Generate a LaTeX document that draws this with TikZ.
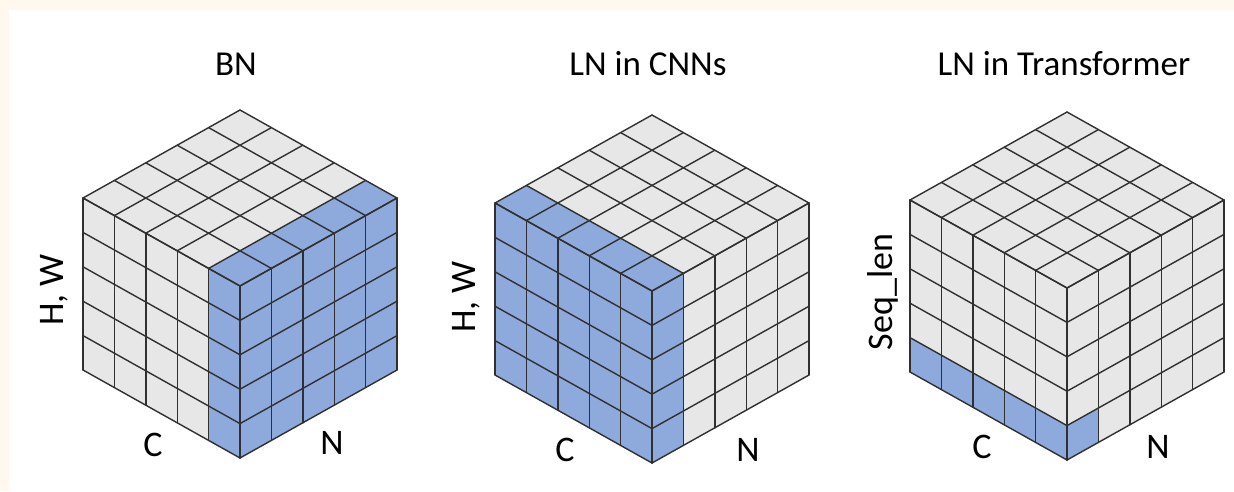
\documentclass[tikz,border=0pt]{standalone}
\usepackage{fontspec}
\setmainfont{Carlito}
\definecolor{cream}{HTML}{FEF8EF}
\definecolor{facegray}{HTML}{E7E7E7}
\definecolor{normblue}{HTML}{8EA9DB}
\definecolor{gridline}{HTML}{303030}
\begin{document}
\begin{tikzpicture}[x=1pt, y=-1pt,
		face/.style={fill=facegray},
		hit/.style={fill=normblue},
		cubeline/.style={draw=gridline, line width=1.4pt, line cap=round},
		ttl/.style={font=\fontsize{35}{42}\selectfont, anchor=base, inner sep=0pt},
		ax/.style={font=\fontsize{36}{43}\selectfont, inner sep=0pt},
		cell/.style={x={(31.4pt,17.6pt)}, y={(-31.4pt,17.6pt)}, z={(0pt,-34.4pt)}}]
	% page with its cream edge
	\useasboundingbox (0,0) rectangle (1234,491);
	\fill[cream] (0,0) rectangle (1234,491);
	\fill[white] (9,10) rectangle (1234,491);
	% front top corner of each cube
	\coordinate (bn)  at (240,286);
	\coordinate (cnn) at (652,291);
	\coordinate (tf)  at (1067,288);
	% grey faces (x = N, y = C, z = H,W / Seq_len going down)
	\foreach \cb in {bn, cnn, tf} {
		\begin{scope}[shift={(\cb)}, cell]
			\fill[face] (0,0,0) -- (0,5,0) -- (0,5,5) -- (0,0,5) -- cycle;
			\fill[face] (0,0,0) -- (5,0,0) -- (5,0,5) -- (0,0,5) -- cycle;
			\fill[face] (0,0,0) -- (5,0,0) -- (5,5,0) -- (0,5,0) -- cycle;
		\end{scope}
	}
	% BN: one C slice
	\begin{scope}[shift={(bn)}, cell]
		\fill[hit] (0,0,0) -- (5,0,0) -- (5,0,5) -- (0,0,5) -- cycle;
		\fill[hit] (0,0,0) -- (0,1,0) -- (0,1,5) -- (0,0,5) -- cycle;
		\fill[hit] (0,0,0) -- (5,0,0) -- (5,1,0) -- (0,1,0) -- cycle;
	\end{scope}
	% LN in CNNs: one N slice
	\begin{scope}[shift={(cnn)}, cell]
		\fill[hit] (0,0,0) -- (0,5,0) -- (0,5,5) -- (0,0,5) -- cycle;
		\fill[hit] (0,0,0) -- (1,0,0) -- (1,0,5) -- (0,0,5) -- cycle;
		\fill[hit] (0,0,0) -- (1,0,0) -- (1,5,0) -- (0,5,0) -- cycle;
	\end{scope}
	% LN in Transformer: one N, one token
	\begin{scope}[shift={(tf)}, cell]
		\fill[hit] (0,0,4) -- (0,5,4) -- (0,5,5) -- (0,0,5) -- cycle;
		\fill[hit] (0,0,4) -- (1,0,4) -- (1,0,5) -- (0,0,5) -- cycle;
	\end{scope}
	% cell lines on the three visible faces
	\foreach \cb in {bn, cnn, tf} {
		\begin{scope}[shift={(\cb)}, cell]
			\foreach \i in {0,...,5} {
				\draw[cubeline] (0,\i,0) -- (0,\i,5);
				\draw[cubeline] (0,0,\i) -- (0,5,\i);
				\draw[cubeline] (\i,0,0) -- (\i,0,5);
				\draw[cubeline] (0,0,\i) -- (5,0,\i);
				\draw[cubeline] (\i,0,0) -- (\i,5,0);
				\draw[cubeline] (0,\i,0) -- (5,\i,0);
			}
		\end{scope}
	}
	% titles
	\node[ttl] (tbn)  at (236,75)  {BN};
	\node[ttl] (tcnn) at (648,75)  {LN in CNNs};
	\node[ttl] (ttf)  at (1064,75) {LN in Transformer};
	% axis labels
	\node[ax, rotate=90] (hbn)  at (54,290)  {H, W};
	\node[ax, rotate=90] (hcnn) at (466,297) {H, W};
	\node[ax, rotate=90] (stf)  at (883,292) {Seq\_len};
	\node[ax] (cbn)  at (153,445)  {C};
	\node[ax] (nbn)  at (332,443)  {N};
	\node[ax] (ccnn) at (565,450)  {C};
	\node[ax] (ncnn) at (748,450)  {N};
	\node[ax] (ctf)  at (982,447)  {C};
	\node[ax] (ntf)  at (1158,447) {N};
\end{tikzpicture}
\end{document}
